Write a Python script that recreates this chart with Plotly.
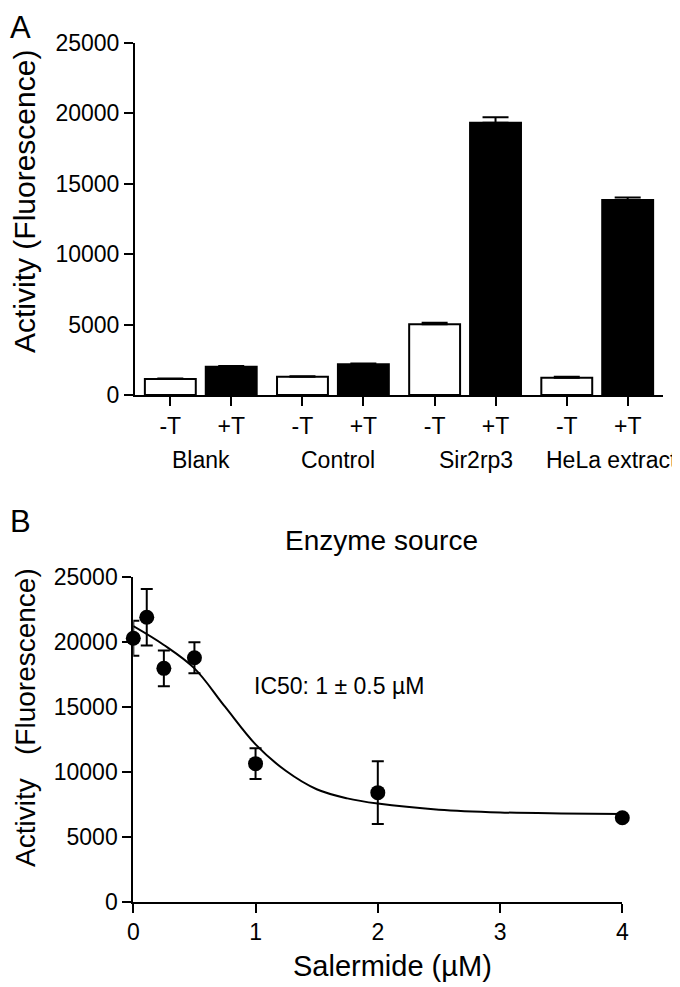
import plotly.graph_objects as go

# ---------------- Panel A data ----------------
groups = ["Blank", "Control", "Sir2rp3", "HeLa extract"]
conditions = ["-T", "+T"]
minus_T = [1130, 1300, 5020, 1230]
plus_T = [2010, 2180, 19340, 13850]
minus_T_err = [40, 40, 120, 60]
plus_T_err = [50, 60, 380, 170]

# ---------------- Panel B data ----------------
salermide = [0, 0.11, 0.25, 0.5, 1, 2, 4]
activity = [20260, 21880, 17950, 18770, 10620, 8390, 6460]
activity_sem = [1350, 2180, 1370, 1190, 1180, 2410, 0]

# fitted dose-response curve
fit_x = [0, 0.25, 0.5, 0.75, 1.0, 1.25, 1.5, 1.75, 2.0, 2.5, 3.0, 3.5, 4.0]
fit_y = [21200, 19750, 17950, 15000, 12100, 10050, 8650, 7950, 7550, 7080, 6870, 6790, 6750]

# page has an 8 px body margin: the figure is placed at (8, 8) in the window
OFF = 8
W, H = 680 - OFF, 987 - OFF
FONT = "Liberation Sans, Arial, sans-serif"
GAP = 2.17      # group spacing in bar units
BW = 0.836      # bar width

def px_x(p):
    return (p - OFF) / W

def px_y(p):
    return 1 - (p - OFF) / H

xpos_minus = [g * GAP for g in range(len(groups))]
xpos_plus = [g * GAP + 1 for g in range(len(groups))]
tickvals = []
ticktext = []
for g in range(len(groups)):
    tickvals += [xpos_minus[g], xpos_plus[g]]
    ticktext += conditions

fig = go.Figure()

fig.add_trace(go.Bar(
    x=xpos_minus, y=minus_T, width=BW,
    marker=dict(color="white", line=dict(color="black", width=2)),
    error_y=dict(type="data", array=minus_T_err, arrayminus=[0] * 4, symmetric=False,
                 color="black", thickness=2, width=13),
    xaxis="x", yaxis="y", showlegend=False,
))
fig.add_trace(go.Bar(
    x=xpos_plus, y=plus_T, width=BW,
    marker=dict(color="black", line=dict(color="black", width=2)),
    error_y=dict(type="data", array=plus_T_err, arrayminus=[0] * 4, symmetric=False,
                 color="black", thickness=2, width=13),
    xaxis="x", yaxis="y", showlegend=False,
))

fig.add_trace(go.Scatter(
    x=fit_x, y=fit_y, mode="lines", line=dict(color="black", width=2, shape="spline"),
    xaxis="x2", yaxis="y2", showlegend=False, hoverinfo="skip",
))
fig.add_trace(go.Scatter(
    x=salermide, y=activity, mode="markers",
    marker=dict(color="black", size=15),
    error_y=dict(type="data", array=activity_sem, color="black", thickness=2, width=6),
    xaxis="x2", yaxis="y2", showlegend=False, cliponaxis=False,
))

axis_common = dict(
    showgrid=False, zeroline=False, showline=True, linecolor="black", linewidth=2,
    ticks="outside", ticklen=9, tickwidth=2, tickcolor="black", automargin=False,
    tickfont=dict(family=FONT, size=23, color="black"),
)

fig.update_layout(
    width=W, height=H, autosize=False,
    margin=dict(l=0, r=0, t=0, b=0, pad=0),
    paper_bgcolor="white", plot_bgcolor="white",
    font=dict(family=FONT, color="black"),
    barmode="overlay",
    xaxis=dict(domain=[px_x(135), px_x(663)], range=[-0.58, 3 * GAP + 1 + 0.58],
               tickvals=tickvals, ticktext=ticktext, anchor="y", **axis_common),
    yaxis=dict(domain=[px_y(395), px_y(43)], range=[0, 25000], dtick=5000,
               tickformat="d", anchor="x", **axis_common),
    xaxis2=dict(domain=[px_x(133.3), px_x(622.3)], range=[0, 4], dtick=1,
                anchor="y2", **axis_common),
    yaxis2=dict(domain=[px_y(901.7), px_y(576.7)], range=[0, 25000], dtick=5000,
                tickformat="d", anchor="x2", **axis_common),
)

ann = []
def add_text(text, x, y, size, xref="paper", yref="paper", xanchor="center",
             yanchor="middle", angle=0):
    ann.append(dict(text=text, x=x, y=y, xref=xref, yref=yref, xanchor=xanchor,
                    yanchor=yanchor, textangle=angle, showarrow=False,
                    font=dict(family=FONT, size=size, color="black")))

add_text("A", px_x(8), px_y(8), 31, xanchor="left", yanchor="top")
add_text("B", px_x(8), px_y(502), 31, xanchor="left", yanchor="top")
add_text("Activity (Fluorescence)", px_x(24), px_y(202), 30, angle=-90)
add_text("Activity\u00a0\u00a0\u00a0(Fluorescence)", px_x(25), px_y(718), 28, angle=-90)
label_offsets = [0.0, 0.08, 0.18, 0.24]
for g, name in enumerate(groups):
    add_text(name, g * GAP + 0.5 + label_offsets[g], px_y(460), 23, xref="x")
add_text("Enzyme source", px_x(381), px_y(540), 28)
add_text("Salermide (\u00b5M)", px_x(392), px_y(966), 29)
add_text("IC50: 1 \u00b1 0.5 \u00b5M", 0.97, 16600, 23, xref="x2", yref="y2", xanchor="left")

fig.update_layout(annotations=ann)

fig.write_html("out.html")
